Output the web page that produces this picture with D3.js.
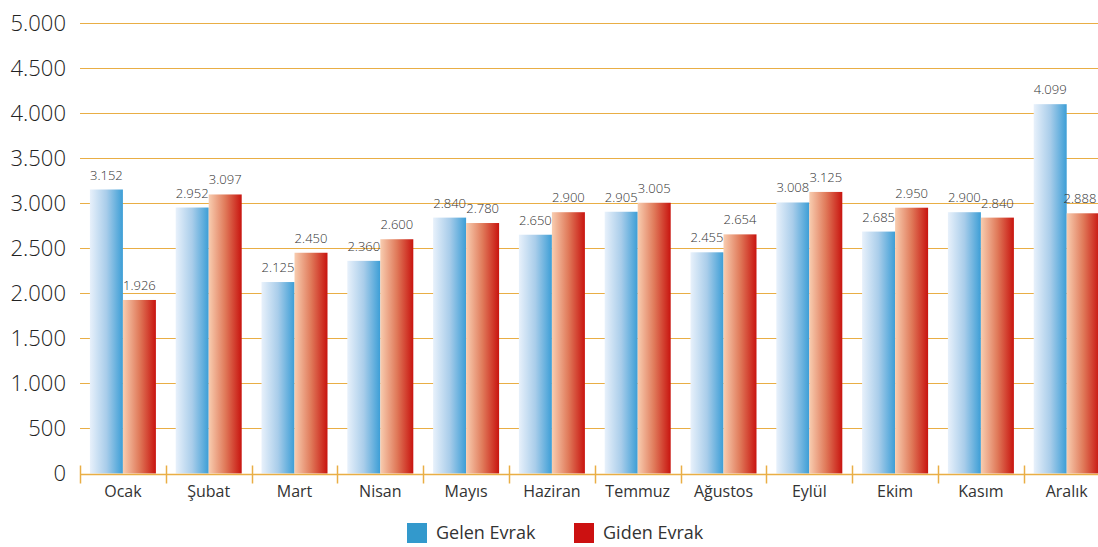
<!DOCTYPE html>
<html>
<head>
<meta charset="utf-8">
<script src="https://cdn.jsdelivr.net/npm/d3@7"></script>
<style>
  body { margin: 0; background: #fff; }
  svg { display: block; font-family: "Open Sans", sans-serif; }
</style>
</head>
<body>
<div id="chart"></div>
<script>
// Data
const months = ["Ocak", "Şubat", "Mart", "Nisan", "Mayıs", "Haziran", "Temmuz", "Ağustos", "Eylül", "Ekim", "Kasım", "Aralık"];
const gelen = [3152, 2952, 2125, 2360, 2840, 2650, 2905, 2455, 3008, 2685, 2900, 4099];
const giden = [1926, 3097, 2450, 2600, 2780, 2900, 3005, 2654, 3125, 2950, 2840, 2888];
const yTicks = [0, 500, 1000, 1500, 2000, 2500, 3000, 3500, 4000, 4500, 5000];
const seriesNames = ["Gelen Evrak", "Giden Evrak"];

const W = 1098, H = 547;
const margin = { top: 23, left: 80, bottom: 73 };
const bandW = 85.8;
const fmt = v => d3.format(",")(v).replace(/,/g, ".");

const svg = d3.select("#chart").append("svg")
  .attr("width", W)
  .attr("height", H);

// Gradients
const defs = svg.append("defs");
const grads = [
  { id: "gBlue", stops: ["#e8f1fb", "#a9cdea", "#3c9ed6"] },
  { id: "gRed", stops: ["#f8cdb0", "#e07a5a", "#c8140f"] }
];
grads.forEach(g => {
  const lg = defs.append("linearGradient").attr("id", g.id)
    .attr("x1", "0%").attr("x2", "100%").attr("y1", "0%").attr("y2", "0%");
  g.stops.forEach((c, i) => lg.append("stop")
    .attr("offset", (i / (g.stops.length - 1) * 100) + "%")
    .attr("stop-color", c));
});

// Scales
const x = d3.scaleBand().domain(months)
  .range([margin.left, margin.left + bandW * months.length])
  .paddingInner(0).paddingOuter(0);
const x1 = d3.scaleBand().domain([0, 1])
  .range([0, 66]);
const y = d3.scaleLinear().domain([0, 5000]).range([H - margin.bottom - 0.5, margin.top]);

// Gridlines
svg.append("g").selectAll("line")
  .data(yTicks.filter(d => d > 0))
  .join("line")
  .attr("x1", margin.left).attr("x2", W)
  .attr("y1", d => Math.round(y(d)) + 0.5).attr("y2", d => Math.round(y(d)) + 0.5)
  .attr("stroke", "#e9ae45").attr("stroke-width", 1.2);

// Y labels
svg.append("g").selectAll("text")
  .data(yTicks)
  .join("text")
  .attr("x", 66)
  .attr("y", d => y(d))
  .attr("dy", "0.35em")
  .attr("text-anchor", "end")
  .attr("font-size", 22)
  .attr("font-weight", 300)
  .attr("fill", "#222")
  .text(d => fmt(d));

// Bars
const groups = svg.append("g").selectAll("g")
  .data(months)
  .join("g")
  .attr("transform", d => `translate(${x(d) + (bandW - 66) / 2},0)`);

const rows = months.map((m, i) => [gelen[i], giden[i]]);
groups.each(function(m, i) {
  const g = d3.select(this);
  const gx = x(m) + (bandW - 66) / 2;
  g.selectAll("rect")
    .data(rows[i])
    .join("rect")
    .attr("x", (d, j) => x1(j))
    .attr("width", x1.bandwidth())
    .attr("y", d => y(d))
    .attr("height", d => y(0) - y(d))
    .attr("fill", (d, j) => j === 0 ? "url(#gBlue)" : "url(#gRed)");
  g.selectAll("text")
    .data(rows[i])
    .join("text")
    // keep the last label inside the picture
    .attr("x", (d, j) => Math.min(x1(j) + x1.bandwidth() / 2, W - 18 - gx))
    .attr("y", d => y(d) - 10)
    .attr("text-anchor", "middle")
    .attr("font-size", 13)
    .attr("font-weight", 300)
    .attr("fill", "#333")
    .text(d => fmt(d));
});

// Baseline axis
const base = Math.round(y(0)) + 0.5;
svg.append("line")
  .attr("x1", margin.left).attr("x2", W)
  .attr("y1", base).attr("y2", base)
  .attr("stroke", "#e9ae45").attr("stroke-width", 1.5);

svg.append("g").selectAll("line")
  .data(months)
  .join("line")
  .attr("x1", d => Math.round(x(d)) + 0.5).attr("x2", d => Math.round(x(d)) + 0.5)
  .attr("y1", base - 9).attr("y2", base + 9)
  .attr("stroke", "#e9ae45").attr("stroke-width", 1.5);

svg.append("g").selectAll("text")
  .data(months)
  .join("text")
  .attr("x", d => x(d) + bandW / 2)
  .attr("y", 497)
  .attr("text-anchor", "middle")
  .attr("font-size", 16)
  .attr("fill", "#333")
  .text(d => d);

// Legend
const legendColors = ["#3399cc", "#cc1111"];
const legendX = [407, 574];
const legend = svg.append("g").selectAll("g")
  .data(seriesNames)
  .join("g")
  .attr("transform", (d, i) => `translate(${legendX[i]},523)`);
legend.append("rect")
  .attr("width", 20).attr("height", 20)
  .attr("fill", (d, i) => legendColors[i]);
legend.append("text")
  .attr("x", 29).attr("y", 10)
  .attr("dy", "0.35em")
  .attr("font-size", 18)
  .attr("fill", "#333")
  .text(d => d);
</script>
</body>
</html>
